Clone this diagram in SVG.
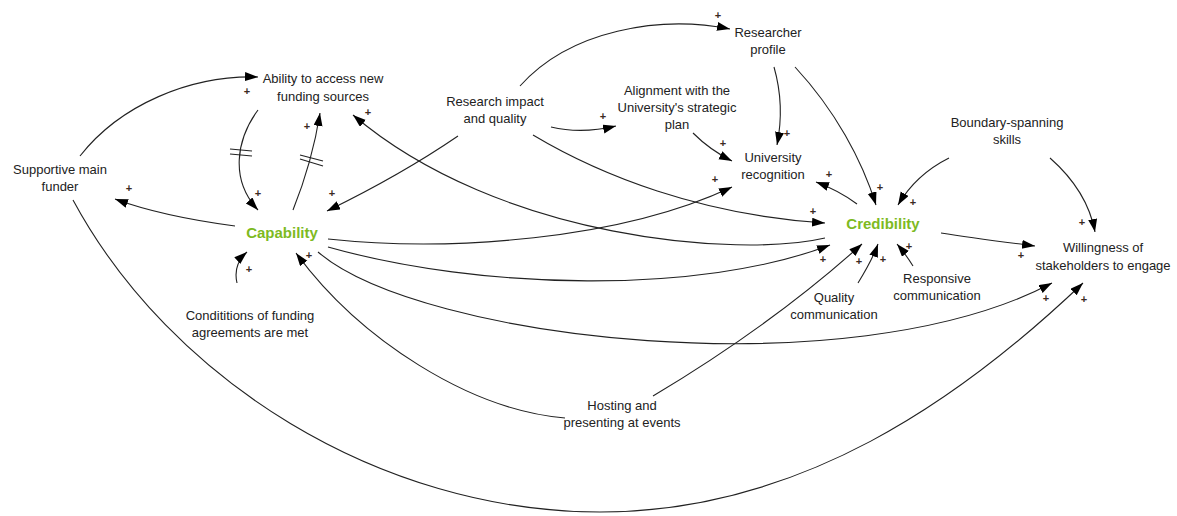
<svg xmlns="http://www.w3.org/2000/svg" width="1177" height="516" viewBox="0 0 1177 516">
<defs>
<marker id="arr" markerUnits="userSpaceOnUse" markerWidth="14" markerHeight="10" refX="13" refY="4.5" orient="auto">
<path d="M0,0 L13,4.5 L0,9 z" fill="#000"/>
</marker>
</defs>
<style>
text{font-family:"Liberation Sans",Arial,sans-serif;}
.n{font-size:13px;fill:#222;text-anchor:middle;}
.k{font-size:15px;font-weight:bold;fill:#7dba1f;text-anchor:middle;}
.p{font-size:11px;fill:#3a2a22;text-anchor:middle;font-weight:bold;}
.e{fill:none;stroke:#222;stroke-width:1.1;}
.a{marker-end:url(#arr);}
.d{stroke:#222;stroke-width:1.1;}
</style>
<rect width="1177" height="516" fill="#fff"/>
<g id="connectors">
<path class="e a" d="M80,156 C120,105 190,75 258,77"/>
<path class="e a" d="M258,110 C236,140 230,180 258,210"/>
<path class="e a" d="M293,210 C305,180 315,145 320,113"/>
<path class="e a" d="M235,226 C190,220 150,212 115,199"/>
<path class="e a" d="M458,136 C420,162 370,190 327,211"/>
<path class="e a" d="M825,238 C740,258 500,240 353,115"/>
<path class="e a" d="M520,86 C570,30 660,15 730,29"/>
<path class="e a" d="M551,127 C572,132 595,131 616,126"/>
<path class="e a" d="M533,135 C600,175 700,215 825,223"/>
<path class="e a" d="M693,133 C705,145 718,154 732,161"/>
<path class="e a" d="M774,67 C782,95 782,120 777,145"/>
<path class="e a" d="M795,67 C835,110 862,160 876,205"/>
<path class="e a" d="M857,204 C845,195 832,188 816,182"/>
<path class="e a" d="M949,158 C925,170 908,188 898,205"/>
<path class="e a" d="M1050,158 C1075,180 1090,205 1095,232"/>
<path class="e a" d="M941,233 C972,238 1004,242 1035,246"/>
<path class="e a" d="M328,239 C450,252 620,240 732,187"/>
<path class="e a" d="M328,247 C480,290 700,295 830,245"/>
<path class="e a" d="M318,252 C420,340 850,390 1052,283"/>
<path class="e a" d="M565,418 C470,410 360,340 296,253"/>
<path class="e a" d="M653,396 C730,350 800,300 862,244"/>
<path class="e a" d="M858,283 C866,270 873,258 878,244"/>
<path class="e a" d="M913,266 C908,258 903,251 897,244"/>
<path class="e a" d="M73,200 C170,380 380,512 600,512 C800,512 960,400 1083,283"/>
<path class="e a" d="M237,283 C234,270 238,260 247,252"/>
<line class="d" x1="230" y1="149" x2="252" y2="151"/>
<line class="d" x1="230" y1="154" x2="252" y2="156"/>
<line class="d" x1="300" y1="155" x2="323" y2="161"/>
<line class="d" x1="300" y1="159" x2="323" y2="166"/>
</g>
<g id="n_ability"><text class="n" x="323" y="83">Ability to access new</text><text class="n" x="323" y="101">funding sources</text></g>
<g id="n_supportive"><text class="n" x="60" y="174">Supportive main</text><text class="n" x="60" y="191">funder</text></g>
<g id="n_capability"><text class="k" x="282" y="238">Capability</text></g>
<g id="n_research"><text class="n" x="495" y="106">Research impact</text><text class="n" x="495" y="123">and quality</text></g>
<g id="n_profile"><text class="n" x="768" y="37">Researcher</text><text class="n" x="768" y="54">profile</text></g>
<g id="n_alignment"><text class="n" x="677" y="95">Alignment with the</text><text class="n" x="677" y="112">University's strategic</text><text class="n" x="677" y="129">plan</text></g>
<g id="n_recognition"><text class="n" x="773" y="162">University</text><text class="n" x="773" y="179">recognition</text></g>
<g id="n_credibility"><text class="k" x="883" y="229">Credibility</text></g>
<g id="n_boundary"><text class="n" x="1007" y="127">Boundary-spanning</text><text class="n" x="1007" y="144">skills</text></g>
<g id="n_willingness"><text class="n" x="1103" y="252">Willingness of</text><text class="n" x="1103" y="270">stakeholders to engage</text></g>
<g id="n_responsive"><text class="n" x="937" y="283">Responsive</text><text class="n" x="937" y="300">communication</text></g>
<g id="n_quality"><text class="n" x="834" y="302">Quality</text><text class="n" x="834" y="319">communication</text></g>
<g id="n_conditions"><text class="n" x="250" y="320">Condititions of funding</text><text class="n" x="250" y="337">agreements are met</text></g>
<g id="n_hosting"><text class="n" x="622" y="410">Hosting and</text><text class="n" x="622" y="427">presenting at events</text></g>
<g id="polarities">
<text class="p" x="247" y="95">+</text>
<text class="p" x="258" y="197">+</text>
<text class="p" x="307" y="130">+</text>
<text class="p" x="368" y="116">+</text>
<text class="p" x="129" y="192">+</text>
<text class="p" x="332" y="197">+</text>
<text class="p" x="249" y="273">+</text>
<text class="p" x="309" y="259">+</text>
<text class="p" x="718" y="19">+</text>
<text class="p" x="603" y="120">+</text>
<text class="p" x="723" y="147">+</text>
<text class="p" x="787" y="137">+</text>
<text class="p" x="715" y="183">+</text>
<text class="p" x="829" y="178">+</text>
<text class="p" x="880" y="191">+</text>
<text class="p" x="913" y="206">+</text>
<text class="p" x="813" y="215">+</text>
<text class="p" x="823" y="263">+</text>
<text class="p" x="859" y="265">+</text>
<text class="p" x="883" y="263">+</text>
<text class="p" x="909" y="250">+</text>
<text class="p" x="1082" y="226">+</text>
<text class="p" x="1021" y="259">+</text>
<text class="p" x="1046" y="302">+</text>
<text class="p" x="1084" y="303">+</text>
</g>
</svg>
